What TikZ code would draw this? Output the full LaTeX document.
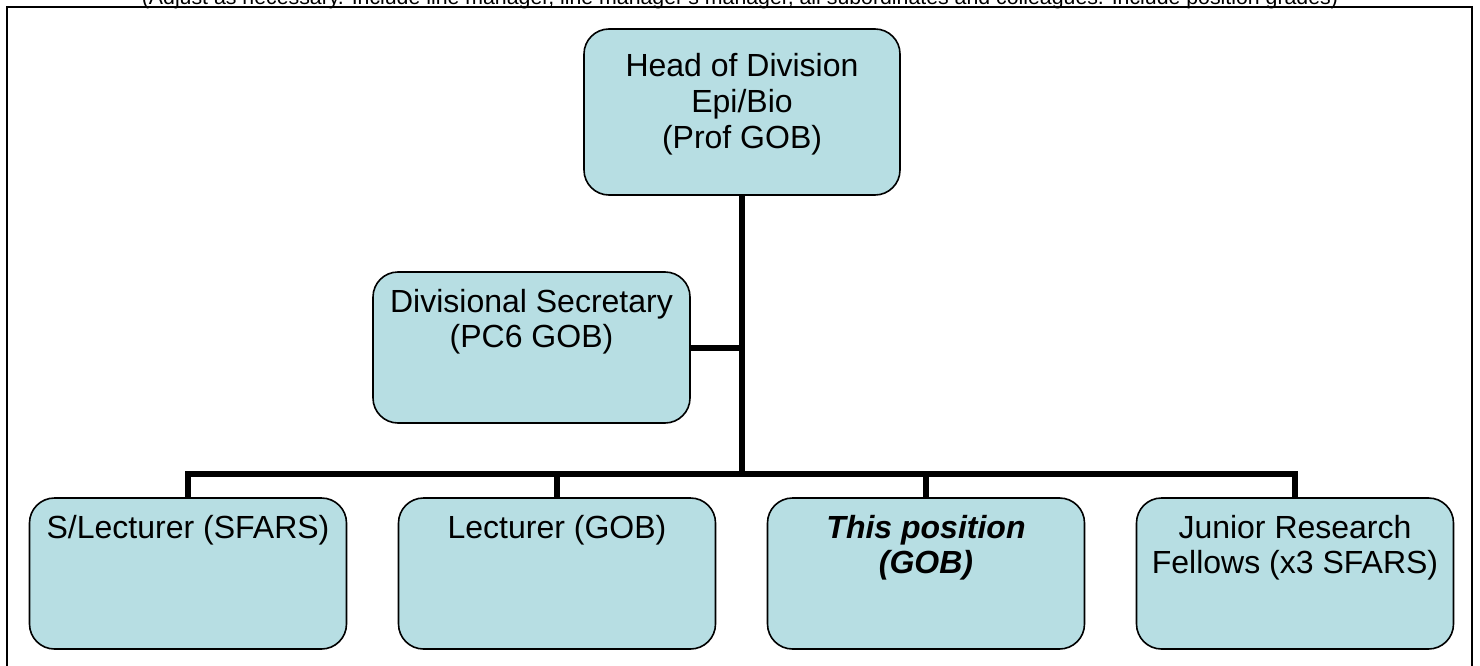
\documentclass[tikz,border=0pt]{standalone}
\usepackage{fontspec}
\setmainfont{Liberation Sans}
\definecolor{boxfill}{HTML}{B7DEE3}
\newcommand\orgtext[4]{\parbox[c][#2][t]{#1}{\centering\rule{0pt}{#3}#4}}
\tikzset{
  orgbox/.style={draw=black, line width=1.6pt, fill=boxfill, rounded corners=25pt,
    inner sep=0pt, outer sep=0pt, font=\fontsize{32}{35.7}\selectfont},
  conn/.style={draw=black, line width=6pt, line join=miter},
  frame/.style={draw=black, line width=2.2pt}
}
\begin{document}
\begin{tikzpicture}[x=1pt,y=-1pt]
\useasboundingbox (0,0) rectangle (1480,666);
\clip (0,0) rectangle (1480,666);
\fill[white] (0,0) rectangle (1480,666);
\draw[frame] (7,7) rectangle (1472,700);
\node[font=\fontsize{21.3}{25}\selectfont, anchor=base, inner sep=0pt] (title) at (740,5)
  {(Adjust as necessary. Include line manager, line manager's manager, all subordinates and colleagues. Include position grades)};
\node[orgbox] (head) at (742,112) {\orgtext{316pt}{166pt}{48pt}{Head of Division\\Epi/Bio\\(Prof GOB)}};
\node[orgbox] (sec) at (531.5,347.5) {\orgtext{317pt}{151pt}{40pt}{Divisional Secretary\\(PC6 GOB)}};
\node[orgbox] (slect) at (188,573.5) {\orgtext{317pt}{151pt}{40pt}{S/Lecturer (SFARS)}};
\node[orgbox] (lect) at (557,573.5) {\orgtext{317pt}{151pt}{40pt}{Lecturer (GOB)}};
\node[orgbox] (thispos) at (926,573.5) {\orgtext{317pt}{151pt}{40pt}{\bfseries\itshape This position\\(GOB)}};
\node[orgbox] (jrf) at (1295,573.5) {\orgtext{317pt}{151pt}{40pt}{Junior Research\\Fellows (x3 SFARS)}};
\coordinate (bus) at (742,474);
\draw[conn] (head.south) -- (bus);
\draw[conn] (sec.east) -- (sec.east -| bus);
\draw[conn] (slect.north) -- (slect.north |- bus) -- (jrf.north |- bus) -- (jrf.north);
\draw[conn] (lect.north) -- (lect.north |- bus);
\draw[conn] (thispos.north) -- (thispos.north |- bus);
\end{tikzpicture}
\end{document}
